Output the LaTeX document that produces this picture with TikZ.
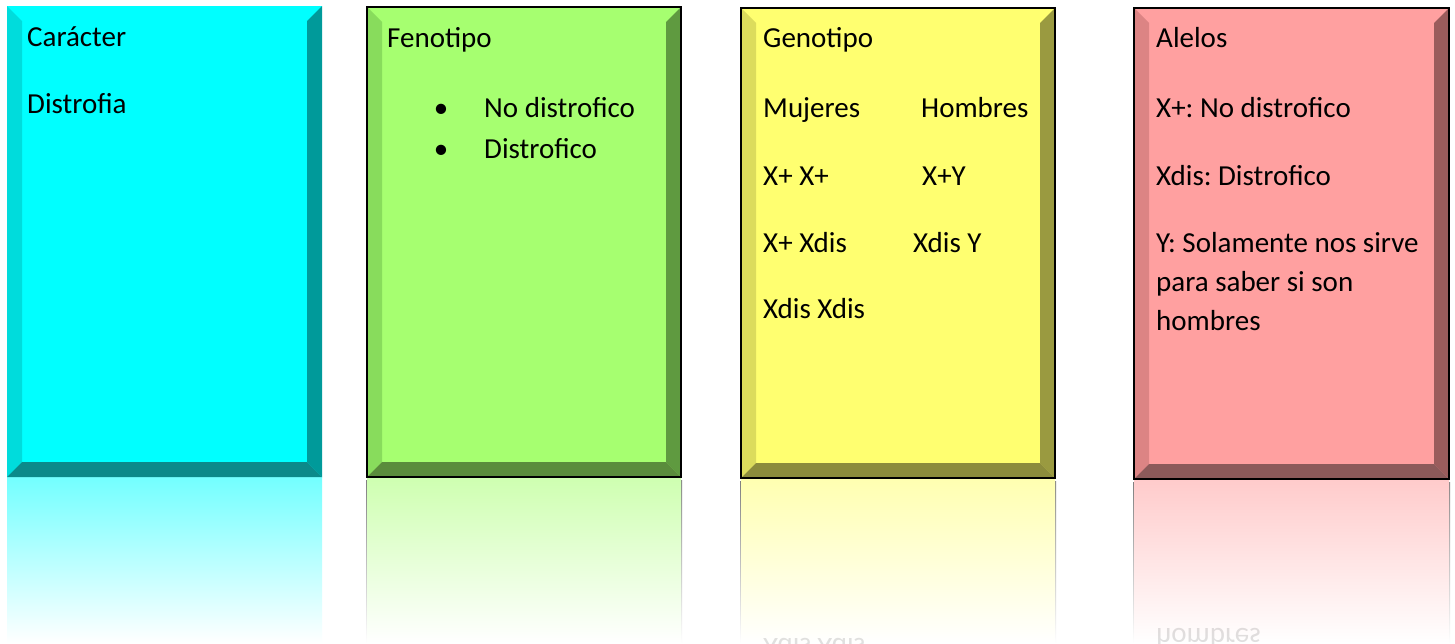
\documentclass[tikz,border=0pt]{standalone}
\usepackage{fontspec}
\setmainfont{Carlito}
\frenchspacing
\definecolor{cyF}{HTML}{00FFFF}\definecolor{cyL}{HTML}{00DCDC}\definecolor{cyR}{HTML}{009A9A}\definecolor{cyB}{HTML}{0B8A8A}
\definecolor{grF}{HTML}{A6FF70}\definecolor{grL}{HTML}{88DC5C}\definecolor{grR}{HTML}{5F9A40}\definecolor{grB}{HTML}{5A8C3C}
\definecolor{yeF}{HTML}{FFFF70}\definecolor{yeL}{HTML}{DCDC5C}\definecolor{yeR}{HTML}{9A9A40}\definecolor{yeB}{HTML}{8C8C3C}
\definecolor{reF}{HTML}{FFA0A0}\definecolor{reL}{HTML}{DC8484}\definecolor{reR}{HTML}{9A5C5C}\definecolor{reB}{HTML}{8C5A5A}
% #1 x1, #2 y1, #3 x2, #4 y2, #5 colour prefix
\newcommand\mybevelbox[5]{%
  \shade[top color=#5F!55!white, bottom color=white] (#1,#4) rectangle (#3,643);
  \fill[#5F] (#1,#2) rectangle (#3,#4);
  \fill[#5L] (#1,#2) -- (#1+15,#2+15) -- (#1+15,#4-15) -- (#1,#4) -- cycle;
  \fill[#5R] (#3,#2) -- (#3-15,#2+15) -- (#3-15,#4-15) -- (#3,#4) -- cycle;
  \fill[#5B] (#1,#4) -- (#1+15,#4-15) -- (#3-15,#4-15) -- (#3,#4) -- cycle;
}
\newcommand\myreflborder[4]{%
  \shade[top color=black!50, bottom color=white] (#1-1,#4+3) rectangle (#1+1.5,643);
  \shade[top color=black!50, bottom color=white] (#3-1.5,#4+3) rectangle (#3+1,643);
  \draw[black!45, line width=1.5] (#1,#4+3.5) -- (#3,#4+3.5);
}
\tikzset{
  txt/.style={anchor=base west, inner sep=0pt, font=\fontsize{29}{35}\selectfont, text=black},
  bul/.style={anchor=base, inner sep=0pt, font=\fontsize{29}{35}\selectfont},
  refl/.style={txt, yscale=-1, opacity=0.12},
  frame/.style={draw=black, line width=2pt}
}
\begin{document}
\begin{tikzpicture}[x=1pt,y=-1pt]
\useasboundingbox (0,0) rectangle (1455,643);
\fill[white] (0,0) rectangle (1455,643);

% Box 1
\mybevelbox{7}{6}{322}{477}{cy}
\node[txt] (c1) at (27,46) {Carácter};
\node[txt] (c2) at (27,113) {Distrofia};

% Box 2
\myreflborder{367}{7}{681}{477}
\mybevelbox{367}{7}{681}{477}{gr}
\draw[frame] (367,7) rectangle (681,477);
\node[txt] (f1) at (387,47) {Fenotipo};
\node[bul] (b1) at (441,117) {•};
\node[txt] (f2) at (484,117) {No distrofico};
\node[bul] (b2) at (441,158) {•};
\node[txt] (f3) at (484,158) {Distrofico};

% Box 3
\myreflborder{741}{8}{1055}{478}
\mybevelbox{741}{8}{1055}{478}{ye}
\draw[frame] (741,8) rectangle (1055,478);
\node[txt] (g1) at (763,47) {Genotipo};
\node[txt] (g2) at (763,117) {Mujeres};
\node[txt] (g3) at (921,117) {Hombres};
\node[txt] (g4) at (763,185) {X+ X+};
\node[txt] (g5) at (922,185) {X+Y};
\node[txt] (g6) at (763,252) {X+ Xdis};
\node[txt] (g7) at (913,252) {Xdis Y};
\node[txt] (g8) at (763,318) {Xdis Xdis};
\node[refl] (g8r) at (763,638) {Xdis Xdis};

% Box 4
\myreflborder{1134}{8}{1449}{479}
\mybevelbox{1134}{8}{1449}{479}{re}
\draw[frame] (1134,8) rectangle (1449,479);
\node[txt] (a1) at (1156,47) {Alelos};
\node[txt] (a2) at (1156,117) {X+: No distrofico};
\node[txt] (a3) at (1156,185) {Xdis: Distrofico};
\node[txt] (a4) at (1156,252) {Y: Solamente nos sirve};
\node[txt] (a5) at (1156,291) {para saber si son};
\node[txt] (a6) at (1156,330) {hombres};
\node[refl] (a6r) at (1156,628) {hombres};
\end{tikzpicture}
\end{document}
